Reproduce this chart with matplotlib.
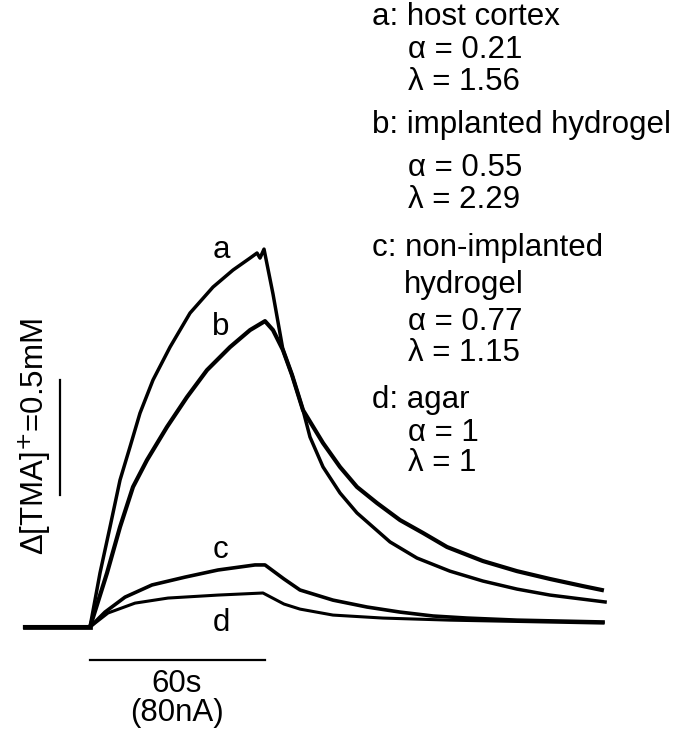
import matplotlib
matplotlib.use("Agg")
import matplotlib.pyplot as plt

plt.rcParams['font.family'] = ['Liberation Sans', 'DejaVu Sans']

# time (s) relative to current onset, concentration change (mM)
t_a = [-22.3, 0, 3.43, 6.86, 10.29, 13.71, 17.14, 21.6, 27.43, 34.29, 42.17, 49.03, 54.86,
       57.26, 58.29, 59.66, 62.74, 66.17, 69.26, 73.03, 75.43, 79.89, 85.71, 91.54, 102.86,
       112.1, 123.4, 134.7, 146.4, 157.7, 176.6]
c_a = [0, 0, 0.235, 0.435, 0.639, 0.783, 0.93, 1.074, 1.217, 1.365, 1.478, 1.552, 1.604,
       1.626, 1.604, 1.643, 1.448, 1.204, 1.096, 0.943, 0.826, 0.696, 0.583, 0.496, 0.37,
       0.3, 0.243, 0.2, 0.165, 0.139, 0.109]

t_b = [-22.3, 0, 5.83, 10.29, 14.74, 19.54, 26.4, 33.26, 40.11, 48.0, 54.86, 60.0, 62.74,
       66.17, 69.26, 73.03, 79.89, 85.71, 91.54, 98.4, 106.29, 114.17, 122.4, 134.7, 146.4,
       157.7, 169.0, 175.5]
c_b = [0, 0, 0.235, 0.435, 0.609, 0.726, 0.87, 1.0, 1.117, 1.217, 1.291, 1.33, 1.291,
       1.204, 1.096, 0.943, 0.8, 0.696, 0.609, 0.539, 0.465, 0.409, 0.348, 0.287, 0.243,
       0.209, 0.178, 0.161]

t_c = [-22.3, 0, 5.14, 12.0, 21.26, 32.57, 43.89, 56.57, 60.0, 66.5, 72.0, 83.31, 94.97,
       106.29, 117.6, 129.26, 146.4, 175.9]
c_c = [0, 0, 0.065, 0.13, 0.183, 0.217, 0.248, 0.27, 0.27, 0.209, 0.161, 0.117, 0.087,
       0.065, 0.048, 0.039, 0.03, 0.022]

t_d = [-22.3, 0, 6.17, 15.43, 26.74, 43.89, 59.31, 66.5, 72.0, 83.31, 100.46, 123.4, 175.9]
c_d = [0, 0, 0.061, 0.104, 0.126, 0.139, 0.148, 0.1, 0.078, 0.052, 0.039, 0.03, 0.017]

curve_labels = ['a', 'b', 'c', 'd']
legend_lines = [
    ("a: host cortex", 0), ("α = 0.21", 1), ("λ = 1.56", 1),
    ("b: implanted hydrogel", 0), ("α = 0.55", 1), ("λ = 2.29", 1),
    ("c: non-implanted", 0), ("hydrogel", 2), ("α = 0.77", 1), ("λ = 1.15", 1),
    ("d: agar", 0), ("α = 1", 1), ("λ = 1", 1),
]
legend_y = [17, 50, 82, 125, 168, 200, 248, 285, 322, 353, 400, 433, 463]

W, H = 677, 734
fig = plt.figure(figsize=(W / 100, H / 100), dpi=100)
ax = fig.add_axes([0, 0, 1, 1])
ax.set_xlim(-30.86, 201.26)
ax.set_ylim(-0.465, 2.726)
ax.axis('off')

ax.plot(t_a, c_a, color='black', lw=2.5, solid_joinstyle='round')
ax.plot(t_b, c_b, color='black', lw=3.0, solid_joinstyle='round')
ax.plot(t_c, c_c, color='black', lw=2.6, solid_joinstyle='round')
ax.plot(t_d, c_d, color='black', lw=2.2, solid_joinstyle='round')
ax.plot([-22.3, 0], [0, 0], color='black', lw=3.4)

# scale bars: 0.5 mM and 60 s
ax.plot([-10.29, -10.29], [0.574, 1.074], color='black', lw=1.6)
ax.plot([0, 60], [-0.143, -0.143], color='black', lw=1.6)

fs = 22.5
fig.text(35 / W, 1 - 437 / H, r'Δ[TMA]$^{+}$=0.5mM', rotation=90,
         ha='center', va='center', fontsize=fs)
fig.text(177 / W, 1 - 684 / H, '60s', ha='center', va='center', fontsize=fs)
fig.text(177 / W, 1 - 713 / H, '(80nA)', ha='center', va='center', fontsize=fs)

for lab, y in zip(curve_labels, [250, 327, 550, 623]):
    fig.text(221 / W, 1 - y / H, lab, ha='center', va='center', fontsize=fs)

indent_x = {0: 372, 1: 408, 2: 404}
for (txt, ind), y in zip(legend_lines, legend_y):
    fig.text(indent_x[ind] / W, 1 - y / H, txt, ha='left', va='center', fontsize=fs)

fig.savefig('out.png', dpi=100, facecolor='white')
